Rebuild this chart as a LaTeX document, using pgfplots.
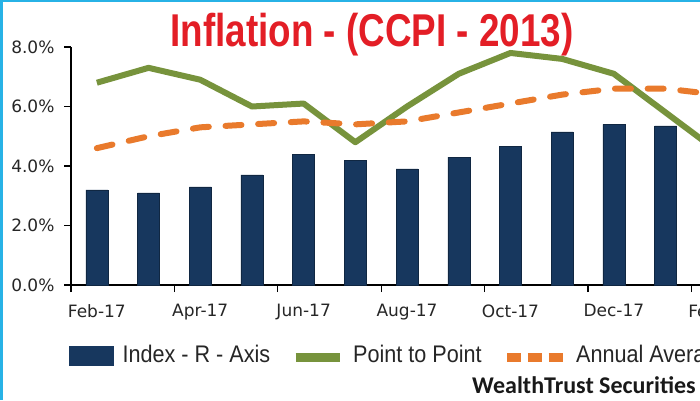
\documentclass[border=0pt]{standalone}
\usepackage{pgfplots}
\usepackage{pgfplotstable}
\pgfplotsset{compat=1.18}
\usepackage{fontspec}
\setmainfont{DejaVu Sans}
\newfontfamily\legendfont[FakeStretch=0.9]{Liberation Sans}
\newfontfamily\titlefont[FakeStretch=0.8]{Liberation Sans}
\newfontfamily\wtfont{Carlito}
\definecolor{navy}{HTML}{17375E}
\definecolor{pgreen}{HTML}{77933C}
\definecolor{porange}{HTML}{E97A2C}
\definecolor{tred}{HTML}{E31E26}
\definecolor{bblue}{HTML}{27B2E6}

\pgfplotstableread{
x idx p2p avg
0 3.20 6.8 4.6
1 3.10 7.3 5.0
2 3.30 6.9 5.3
3 3.70 6.0 5.4
4 4.40 6.1 5.5
5 4.20 4.8 5.4
6 3.90 6.0 5.5
7 4.30 7.1 5.8
8 4.65 7.8 6.1
9 5.15 7.6 6.4
10 5.40 7.1 6.6
11 5.35 5.8 6.6
12 5.30 4.5 6.4
}\datatable

\begin{document}
\begin{tikzpicture}[x=1pt,y=1pt]
\path[use as bounding box] (0,0) rectangle (700,400);
\clip (0,0) rectangle (700,400);
\fill[white] (0,0) rectangle (700,400);
\begin{axis}[
  at={(71pt,115pt)}, anchor=south west,
  scale only axis, width=672.1pt, height=238pt,
  xmin=-0.5, xmax=12.5, ymin=0, ymax=8,
  clip=false,
  axis x line*=bottom, axis y line*=left,
  axis line style={black, line width=1.2pt},
  tick align=outside,
  major tick length=7pt, minor tick length=7pt,
  xtick={0,2,...,12},
  xticklabels={Feb-17,Apr-17,Jun-17,Aug-17,Oct-17,Dec-17,Feb-18},
  minor xtick={-0.5,1.5,3.5,5.5,7.5,9.5,11.5},
  major x tick style={draw=none},
  minor x tick style={black, line width=1.2pt},
  ytick={0,2,4,6,8},
  y tick style={black, line width=1.2pt},
  yticklabel={\pgfmathprintnumber[fixed,fixed zerofill,precision=1]{\tick}\%},
  /pgf/number format/assume math mode=true,
  tick label style={font=\fontsize{17}{20}\selectfont, text=black!85},
  xticklabel style={yshift=-9pt},
  yticklabel style={xshift=-6pt},
  legend style={at={(axis description cs:-0.003,-0.296)}, anchor=west,
    draw=none, fill=none, legend columns=3, inner sep=0pt,
    font=\legendfont\fontsize{24}{26}\selectfont, text=black!85,
    nodes={inner sep=0pt},
    /tikz/every odd column/.append style={column sep=9pt},
    /tikz/every even column/.append style={column sep=21pt}},
]
\addplot[ybar, bar width=22pt, fill=navy, draw=navy!70!black,
  legend image code/.code={\fill[navy] (0pt,-10.5pt) rectangle (44pt,8.5pt);}]
  table[x=x,y=idx]{\datatable};
\addlegendentry{Index - R - Axis}
\addplot[pgreen, line width=6pt, line join=round,
  legend image code/.code={\draw[pgreen, line width=9pt, line cap=butt] (0pt,-3pt) -- (44pt,-3pt);}]
  table[x=x,y=p2p]{\datatable};
\addlegendentry{Point to Point}
\addplot[porange, line width=6pt, line cap=round, dash pattern=on 16pt off 16.7pt,
  legend image code/.code={\draw[porange, line width=9pt, line cap=butt, dash pattern=on 14pt off 6.7pt] (0pt,-3pt) -- (55.4pt,-3pt);}]
  table[x=x,y=avg]{\datatable};
\addlegendentry{Annual Average}
\end{axis}
\node[anchor=base, text=tred, font=\titlefont\bfseries\fontsize{46}{50}\selectfont, inner sep=0pt] at (372,354) {Inflation - (CCPI - 2013)};
\node[anchor=base west, font=\wtfont\bfseries\fontsize{24}{26}\selectfont, text=black!90, inner sep=0pt] at (472,7) {WealthTrust Securities};
\draw[bblue, line width=3pt] (1.5,0) -- (1.5,400);
\draw[bblue, line width=2pt] (0,399) -- (700,399);
\end{tikzpicture}
\end{document}
